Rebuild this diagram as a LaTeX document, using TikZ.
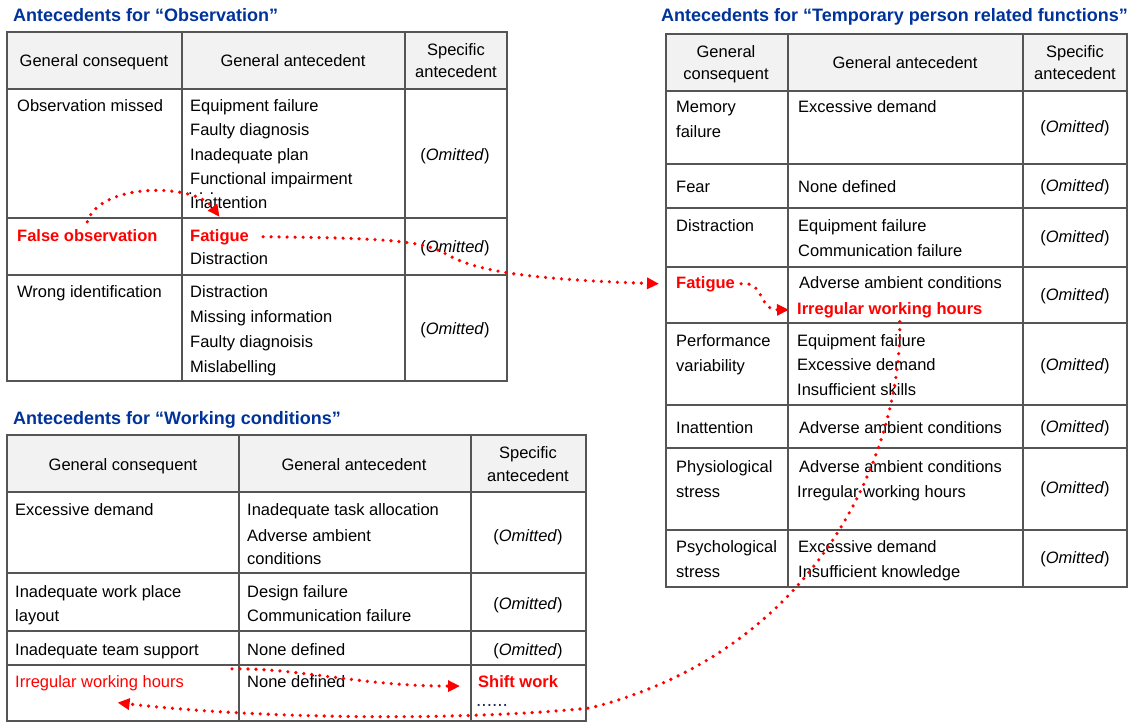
\documentclass[tikz,border=0pt]{standalone}
\usepackage{fontspec}
\setmainfont{Liberation Sans}
\usetikzlibrary{arrows.meta}
\definecolor{myred}{RGB}{255,0,0}
\definecolor{myblue}{RGB}{0,51,153}
\definecolor{gridc}{RGB}{85,85,85}
\definecolor{hdrc}{RGB}{242,242,242}
\definecolor{dotc}{RGB}{40,40,100}
\begin{document}
\begin{tikzpicture}[x=1pt,y=-1pt,
  txt/.style={inner sep=0pt, anchor=base west, font=\fontsize{16.5}{20}\selectfont},
  ctr/.style={txt, anchor=base},
  hl/.style={text=myred, font=\fontsize{16.5}{20}\selectfont\bfseries},
  rl/.style={text=myred},
  ttl/.style={inner sep=0pt, anchor=base west, text=myblue, font=\fontsize{18}{22}\selectfont\bfseries},
  gridline/.style={draw=gridc, line width=1.8pt},
  hdr/.style={fill=hdrc},
  link/.style={draw=myred, line width=3.6pt, line cap=round, dash pattern=on 0pt off 8pt, -{Triangle[length=12pt,width=11pt]}},
]
\useasboundingbox (0,0) rectangle (1138,722);

% ---------------- Table 1: Observation ----------------
\fill[hdr] (7,32) rectangle (507,89);
\draw[gridline] (7,32) rectangle (507,381);
\foreach \yy in {89,218,275} \draw[gridline] (7,\yy) -- (507,\yy);
\foreach \xx in {182,405} \draw[gridline] (\xx,32) -- (\xx,381);

\node[ttl] (t1) at (13,22) {Antecedents for “Observation”};
\node[ctr] (o-h1) at (94,67) {General consequent};
\node[ctr] (o-h2) at (293,67) {General antecedent};
\node[ctr] (o-h3a) at (456,56) {Specific};
\node[ctr] (o-h3b) at (456,78) {antecedent};

\node[txt] (o-c1) at (17,112) {Observation missed};
\node[txt] (o-a1) at (190,112) {Equipment failure};
\node[txt] (o-a2) at (190,136) {Faulty diagnosis};
\node[txt] (o-a3) at (190,161) {Inadequate plan};
\node[txt] (o-a4) at (190,185) {Functional impairment};
\node[txt] (o-dots) at (188,195) {. . .};
\node[txt] (o-a5) at (190,209) {Inattention};
\node[ctr] (o-s1) at (455,161) {(\textit{Omitted})};

\node[txt, hl] (fo) at (17,241) {False observation};
\node[txt, hl] (fa1) at (190,241) {Fatigue};
\node[txt] (o-a7) at (190,265) {Distraction};
\node[ctr] (o-s2) at (455,253) {(\textit{Omitted})};

\node[txt] (o-c3) at (17,297) {Wrong identification};
\node[txt] (o-a8) at (190,297) {Distraction};
\node[txt] (o-a9) at (190,322) {Missing information};
\node[txt] (o-a10) at (190,347) {Faulty diagnoisis};
\node[txt] (o-a11) at (190,372) {Mislabelling};
\node[ctr] (o-s3) at (455,334) {(\textit{Omitted})};

% ---------------- Table 2: Temporary person related functions ----------------
\fill[hdr] (666,34) rectangle (1127,91);
\draw[gridline] (666,34) rectangle (1127,587);
\foreach \yy in {91,164,208,267,323,405,448,530} \draw[gridline] (666,\yy) -- (1127,\yy);
\foreach \xx in {788,1023} \draw[gridline] (\xx,34) -- (\xx,587);

\node[ttl] (t2) at (661,22) {Antecedents for “Temporary person related functions”};
\node[ctr] (p-h1a) at (726,58) {General};
\node[ctr] (p-h1b) at (726,80) {consequent};
\node[ctr] (p-h2) at (905,69) {General antecedent};
\node[ctr] (p-h3a) at (1075,58) {Specific};
\node[ctr] (p-h3b) at (1075,80) {antecedent};

\node[txt] (p-c1a) at (676,113) {Memory};
\node[txt] (p-c1b) at (676,138) {failure};
\node[txt] (p-a1) at (798,113) {Excessive demand};
\node[ctr] (p-s1) at (1075,133) {(\textit{Omitted})};

\node[txt] (p-c2) at (676,193) {Fear};
\node[txt] (p-a2) at (798,193) {None defined};
\node[ctr] (p-s2) at (1075,192) {(\textit{Omitted})};

\node[txt] (p-c3) at (676,232) {Distraction};
\node[txt] (p-a3a) at (798,232) {Equipment failure};
\node[txt] (p-a3b) at (798,256) {Communication failure};
\node[ctr] (p-s3) at (1075,243) {(\textit{Omitted})};

\node[txt, hl] (fa2) at (676,288) {Fatigue};
\node[txt] (p-a4a) at (799,288) {Adverse ambient conditions};
\node[txt, hl] (irr2) at (797,314) {Irregular working hours};
\node[ctr] (p-s4) at (1075,300) {(\textit{Omitted})};

\node[txt] (p-c5a) at (676,346) {Performance};
\node[txt] (p-c5b) at (676,371) {variability};
\node[txt] (p-a5a) at (797,346) {Equipment failure};
\node[txt] (p-a5b) at (797,370) {Excessive demand};
\node[txt] (p-a5c) at (797,395) {Insufficient skills};
\node[ctr] (p-s5) at (1075,370) {(\textit{Omitted})};

\node[txt] (p-c6) at (676,433) {Inattention};
\node[txt] (p-a6) at (799,433) {Adverse ambient conditions};
\node[ctr] (p-s6) at (1075,432) {(\textit{Omitted})};

\node[txt] (p-c7a) at (676,472) {Physiological};
\node[txt] (p-c7b) at (676,497) {stress};
\node[txt] (p-a7a) at (799,472) {Adverse ambient conditions};
\node[txt] (p-a7b) at (797,497) {Irregular working hours};
\node[ctr] (p-s7) at (1075,493) {(\textit{Omitted})};

\node[txt] (p-c8a) at (676,552) {Psychological};
\node[txt] (p-c8b) at (676,577) {stress};
\node[txt] (p-a8a) at (798,552) {Excessive demand};
\node[txt] (p-a8b) at (798,577) {Insufficient knowledge};
\node[ctr] (p-s8) at (1075,563) {(\textit{Omitted})};

% ---------------- Table 3: Working conditions ----------------
\fill[hdr] (7,435) rectangle (586,492);
\draw[gridline] (7,435) rectangle (586,721);
\foreach \yy in {492,573,631,665} \draw[gridline] (7,\yy) -- (586,\yy);
\foreach \xx in {239,471} \draw[gridline] (\xx,435) -- (\xx,721);

\node[ttl] (t3) at (13,424) {Antecedents for “Working conditions”};
\node[ctr] (w-h1) at (123,470) {General consequent};
\node[ctr] (w-h2) at (354,470) {General antecedent};
\node[ctr] (w-h3a) at (528,458) {Specific};
\node[ctr] (w-h3b) at (528,481) {antecedent};

\node[txt] (w-c1) at (15,515) {Excessive demand};
\node[txt] (w-a1a) at (247,515) {Inadequate task allocation};
\node[txt] (w-a1b) at (247,541) {Adverse ambient};
\node[txt] (w-a1c) at (247,564) {conditions};
\node[ctr] (w-s1) at (528,541) {(\textit{Omitted})};

\node[txt] (w-c2a) at (15,597) {Inadequate work place};
\node[txt] (w-c2b) at (15,621) {layout};
\node[txt] (w-a2a) at (247,597) {Design failure};
\node[txt] (w-a2b) at (247,621) {Communication failure};
\node[ctr] (w-s2) at (528,609) {(\textit{Omitted})};

\node[txt] (w-c3) at (15,655) {Inadequate team support};
\node[txt] (w-a3) at (247,655) {None defined};
\node[ctr] (w-s3) at (528,655) {(\textit{Omitted})};

\node[txt, rl] (irr3) at (15,687) {Irregular working hours};
\node[txt] (nd3) at (247,687) {None defined};
\node[txt, hl] (sw) at (478,687) {Shift work};
\node[txt, text=dotc, font=\fontsize{19}{22}\selectfont] (sw-dots) at (476,706) {......};

% ---------------- Connectors ----------------
\draw[link] ([yshift=7pt]fo.north) .. controls (100,182) and (195,183) .. ([yshift=12pt]fa1.north);
\draw[link] ([xshift=14pt]fa1.east) .. controls (400,238) and (425,242) .. (448,255)
   .. controls (475,270) and (520,279) .. ([xshift=-17pt]fa2.west);
\draw[link] ([xshift=6pt]fa2.east) .. controls (765,281) and (758,310) .. ([xshift=-8pt]irr2.west);
\draw[link] ([xshift=10pt,yshift=-4pt]irr2.south) .. controls (902,450) and (820,650) .. (590,708)
   .. controls (450,722) and (250,718) .. ([xshift=18pt,yshift=-12pt]irr3.south);
\draw[link] ([xshift=-15pt,yshift=6pt]nd3.north west) .. controls (300,668) and (360,686) .. ([xshift=-18pt,yshift=-5pt]sw.west);
\end{tikzpicture}
\end{document}
